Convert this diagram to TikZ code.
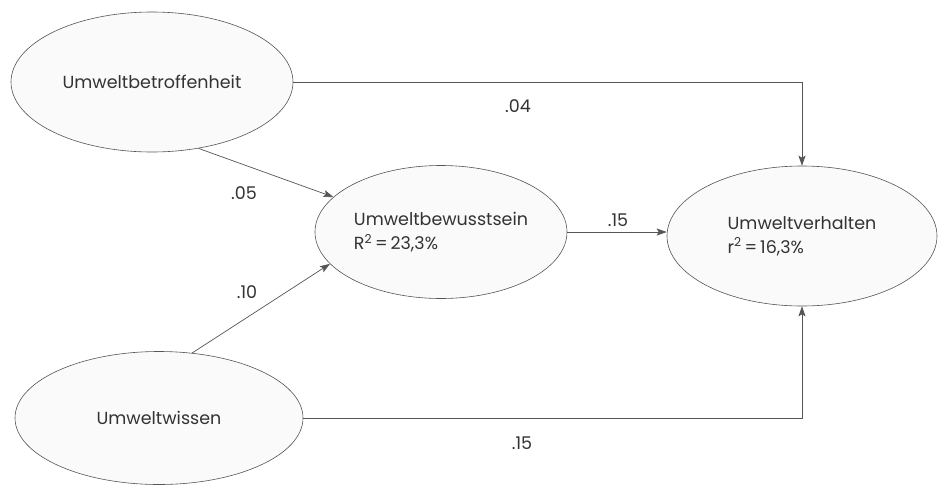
\documentclass[tikz,border=0pt]{standalone}
\usepackage{fontspec}
\setmainfont{Poppins}
\usetikzlibrary{shapes.geometric,arrows.meta}
\definecolor{ink}{HTML}{333333}
\definecolor{edge}{HTML}{555555}
\begin{document}
\begin{tikzpicture}[x=1pt,y=-1pt,
  font=\fontsize{17.5}{24}\selectfont,
  var/.style={ellipse,draw=edge,line width=0.6pt,fill=black!2,inner sep=0pt,
    text=ink,align=left},
  conn/.style={draw=edge,line width=0.7pt,-{Stealth[length=10pt,width=7pt,inset=2pt]}},
  coef/.style={text=ink,inner sep=0pt}]
\useasboundingbox (0,0) rectangle (938,491);
\fill[white] (0,0) rectangle (938,491);
\node[var,minimum width=282pt,minimum height=140pt] (A) at (152,82) {Umweltbetroffenheit};
\node[var,minimum width=252pt,minimum height=133pt] (B) at (441,232) {Umweltbewusstsein\\R\textsuperscript{2}\,=\,23,3\%};
\node[var,minimum width=270pt,minimum height=140pt] (C) at (802,236) {Umweltverhalten\\r\textsuperscript{2}\,=\,16,3\%};
\node[var,minimum width=288pt,minimum height=133pt] (D) at (159,418) {Umweltwissen};
\draw[conn] (A.east) -| (C.north);
\draw[conn] (A.-55) -- (B.162);
\draw[conn] (D.63) -- (B.196);
\draw[conn] (B.east) -- (B.east -| C.west);
\draw[conn] (D.east) -| (C.south);
\node[coef] (l1) at (518,106) {.04};
\node[coef] (l2) at (244,193) {.05};
\node[coef] (l3) at (247,292) {.10};
\node[coef] (l4) at (618,220) {.15};
\node[coef] (l5) at (522,443) {.15};
\end{tikzpicture}
\end{document}
